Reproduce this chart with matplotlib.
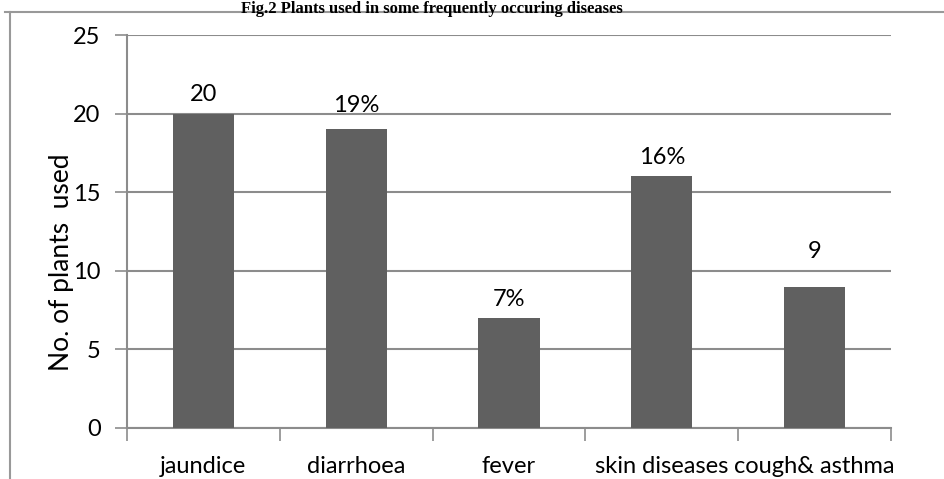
import matplotlib
matplotlib.use("Agg")
import matplotlib.pyplot as plt
from matplotlib.lines import Line2D

categories = ["jaundice", "diarrhoea", "fever", "skin diseases", "cough& asthma"]
values = [20, 19, 7, 16, 9]
value_labels = ["20", "19%", "7%", "16%", "9"]
yticks = [0, 5, 10, 15, 20, 25]

# vertical gap (pixels) between each bar top and the centre of its label
label_gap_px = [19, 24, 18, 19, 35]

plt.rcParams["font.family"] = ["Lato", "DejaVu Sans"]

W, H = 944, 479
fig = plt.figure(figsize=(W / 100, H / 100), dpi=100)
ax = fig.add_axes([127 / W, 1 - 428 / H, (891 - 127) / W, (428 - 35) / H])

grid_c = "#8c8c8c"
bar_c = "#606060"

x = list(range(len(categories)))
ax.bar(x, values, width=0.40, color=bar_c, zorder=3)
for xi, v, lab, gap in zip(x, values, value_labels, label_gap_px):
    ax.annotate(lab, (xi, v), xytext=(0, gap * 0.72), textcoords="offset points",
                ha="center", va="center", fontsize=17, color="black")

ax.set_xlim(-0.5, len(categories) - 0.5)
ax.set_ylim(0, 25)
ax.set_yticks(yticks)
ax.set_yticklabels([str(t) for t in yticks], fontsize=17)
ax.yaxis.grid(True, color=grid_c, linewidth=1.5, zorder=0)
ax.set_axisbelow(True)

# boundary ticks between categories; names are placed separately below
ax.set_xticks([i + 0.5 for i in range(-1, len(categories))])
ax.set_xticklabels([])
ax.tick_params(axis="x", direction="out", length=9, width=1.2, color=grid_c)
ax.tick_params(axis="y", direction="out", length=9, width=1.2, color=grid_c, pad=10)
for xi, c in zip(x, categories):
    fig.text(ax.transData.transform((xi, 0))[0] / W, 1 - 477 / H, c,
             ha="center", va="bottom", fontsize=17)

for s in ["top", "right"]:
    ax.spines[s].set_visible(False)
for s in ["left", "bottom"]:
    ax.spines[s].set_color(grid_c)
    ax.spines[s].set_linewidth(1.5)

fig.text(62 / W, 1 - 262 / H, "No. of plants  used", rotation=90, ha="center",
         va="center", fontsize=19)

# outer chart frame
fig.add_artist(Line2D([10 / W, 10 / W], [0, 1 - 12 / H], transform=fig.transFigure,
                      color="#999999", linewidth=1.5))
fig.add_artist(Line2D([5 / W, 1], [1 - 12 / H, 1 - 12 / H], transform=fig.transFigure,
                      color="#999999", linewidth=1.5))

fig.text(432 / W, 1 - 1 / H, "Fig.2 Plants used in some frequently occuring diseases",
         ha="center", va="top", fontsize=12, fontweight="bold",
         family=["Liberation Serif"])

fig.savefig("out.png", dpi=100)
